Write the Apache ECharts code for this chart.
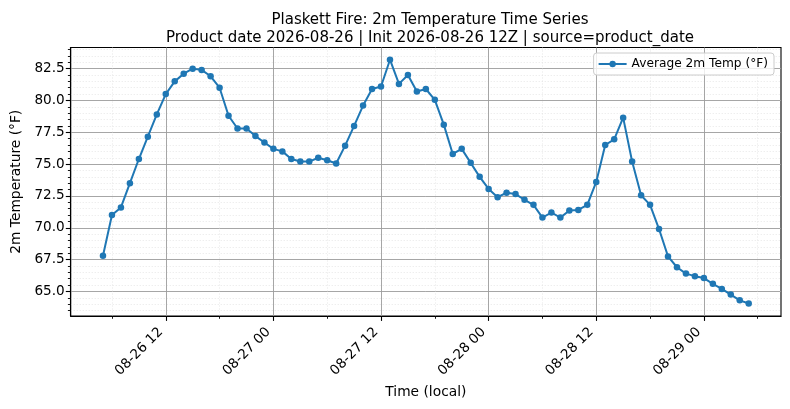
<!DOCTYPE html>
<html>
<head>
<meta charset="utf-8">
<script src="https://cdn.jsdelivr.net/npm/echarts@6/dist/echarts.min.js"></script>
<style>
  html, body { margin: 0; padding: 0; background: #fff; }
  #main { width: 790px; height: 409px; }
</style>
</head>
<body>
<div id="main"></div>
<script>
// hours since 2026-08-26 00:00 (local)
const hours = [
  5, 6, 7, 8, 9, 10, 11, 12, 13, 14, 15, 16, 17, 18, 19, 20, 21, 22, 23,
  24, 25, 26, 27, 28, 29, 30, 31, 32, 33, 34, 35, 36, 37, 38, 39, 40, 41, 42, 43, 44, 45, 46, 47,
  48, 49, 50, 51, 52, 53, 54, 55, 56, 57, 58, 59, 60, 61, 62, 63, 64, 65, 66, 67, 68, 69, 70, 71,
  72, 73, 74, 75, 76, 77
];
// Average 2m temperature (°F)
const temps = [
  67.8, 71.0, 71.6, 73.5, 75.4, 77.15, 78.9, 80.5, 81.5, 82.1, 82.5, 82.4, 81.9, 81.0, 78.8, 77.8, 77.8, 77.2, 76.7,
  76.2, 76.0, 75.4, 75.2, 75.2, 75.5, 75.3, 75.05, 76.45, 78.0, 79.6, 80.9, 81.1, 83.2, 81.3, 82.0, 80.7, 80.9, 80.05, 78.1, 75.8, 76.2, 75.1, 74.0,
  73.05, 72.4, 72.75, 72.65, 72.2, 71.8, 70.8, 71.2, 70.8, 71.35, 71.4, 71.8, 73.6, 76.5, 76.95, 78.65, 75.2, 72.55, 71.8, 69.9, 67.75, 66.9, 66.4, 66.2,
  66.05, 65.6, 65.2, 64.75, 64.3, 64.05
];
const xMajor = [12, 24, 36, 48, 60, 72];
const xMinor = [6, 18, 30, 42, 54, 66, 78];
const yMajor = [65, 67.5, 70, 72.5, 75, 77.5, 80, 82.5];
const yMinor = [63.5, 64, 64.5, 65.5, 66, 66.5, 67, 68, 68.5, 69, 69.5, 70.5, 71, 71.5, 72, 73, 73.5, 74, 74.5,
  75.5, 76, 76.5, 77, 78, 78.5, 79, 79.5, 80.5, 81, 81.5, 82, 83, 83.5, 84];

const font = 'DejaVu Sans';
const xMin = 1.4, xMax = 80.6;
const yMin = 63.07, yMax = 84.16;

function timeLabel(h) {
  const day = 26 + Math.floor(h / 24);
  const hh = h % 24;
  return '08-' + day + ' ' + (hh < 10 ? '0' : '') + hh;
}

const chart = echarts.init(document.getElementById('main'), null, { renderer: 'canvas' });

chart.setOption({
  animation: false,
  backgroundColor: '#fff',
  textStyle: { fontFamily: font },
  title: {
    text: 'Plaskett Fire: 2m Temperature Time Series\nProduct date 2026-08-26 | Init 2026-08-26 12Z | source=product_date',
    left: 425,
    top: 6,
    textAlign: 'center',
    textStyle: { fontFamily: font, fontSize: 15, fontWeight: 'normal', color: '#000', lineHeight: 18 }
  },
  legend: {
    right: 16,
    top: 53,
    padding: [4, 6, 4, 4],
    itemWidth: 28,
    itemHeight: 8,
    borderColor: '#ccc',
    borderWidth: 1,
    borderRadius: 3,
    backgroundColor: 'rgba(255,255,255,0.8)',
    textStyle: { fontFamily: font, fontSize: 12.2, color: '#000', lineHeight: 14 },
    data: ['Average 2m Temp (°F)']
  },
  grid: {
    left: 70.7, right: 9, top: 47.5, bottom: 93,
    show: true, borderColor: '#000', borderWidth: 1.1, backgroundColor: '#fff'
  },
  xAxis: [
    {
      type: 'value', min: xMin, max: xMax,
      name: 'Time (local)', nameLocation: 'middle', nameGap: 68,
      nameTextStyle: { fontFamily: font, fontSize: 13.8, color: '#000' },
      axisLine: { show: true, lineStyle: { color: '#000', width: 1.1 } },
      axisTick: { show: true, length: 4.9, customValues: xMajor, lineStyle: { color: '#000', width: 1.1 } },
      axisLabel: {
        customValues: xMajor, rotate: 45, margin: 9,
        padding: [0, 7, 0, 0],
        fontFamily: font, fontSize: 13.6, color: '#000',
        formatter: function (v) { return timeLabel(v); }
      },
      splitLine: { show: true, customValues: xMajor, lineStyle: { color: '#9c9c9c', width: 0.9 } }
    },
    {
      type: 'value', min: xMin, max: xMax, position: 'bottom',
      axisLine: { show: false },
      axisTick: { show: true, length: 2.8, customValues: xMinor, lineStyle: { color: '#000', width: 0.9 } },
      axisLabel: { show: false },
      splitLine: { show: true, customValues: xMinor, lineStyle: { color: '#dcdcdc', width: 0.7, type: [1, 2] } }
    }
  ],
  yAxis: [
    {
      type: 'value', min: yMin, max: yMax,
      name: '2m Temperature (°F)', nameLocation: 'middle', nameGap: 46,
      nameTextStyle: { fontFamily: font, fontSize: 13.8, color: '#000' },
      axisLine: { show: true, lineStyle: { color: '#000', width: 1.1 } },
      axisTick: { show: true, length: 4.9, customValues: yMajor, lineStyle: { color: '#000', width: 1.1 } },
      axisLabel: {
        customValues: yMajor, margin: 6,
        fontFamily: font, fontSize: 13.6, color: '#000',
        formatter: function (v) { return v.toFixed(1); }
      },
      splitLine: { show: true, customValues: yMajor, lineStyle: { color: '#9c9c9c', width: 0.9 } }
    },
    {
      type: 'value', min: yMin, max: yMax, position: 'left',
      axisLine: { show: false },
      axisTick: { show: true, length: 2.8, customValues: yMinor, lineStyle: { color: '#000', width: 0.9 } },
      axisLabel: { show: false },
      splitLine: { show: true, customValues: yMinor, lineStyle: { color: '#dcdcdc', width: 0.7, type: [1, 2] } }
    }
  ],
  series: [
    {
      name: 'Average 2m Temp (°F)',
      type: 'line',
      xAxisIndex: 0,
      yAxisIndex: 0,
      data: hours.map(function (h, i) { return [h, temps[i]]; }),
      symbol: 'circle',
      symbolSize: 6.5,
      showAllSymbol: true,
      lineStyle: { color: '#1f77b4', width: 2 },
      itemStyle: { color: '#1f77b4' },
      z: 5
    }
  ]
});
</script>
</body>
</html>
